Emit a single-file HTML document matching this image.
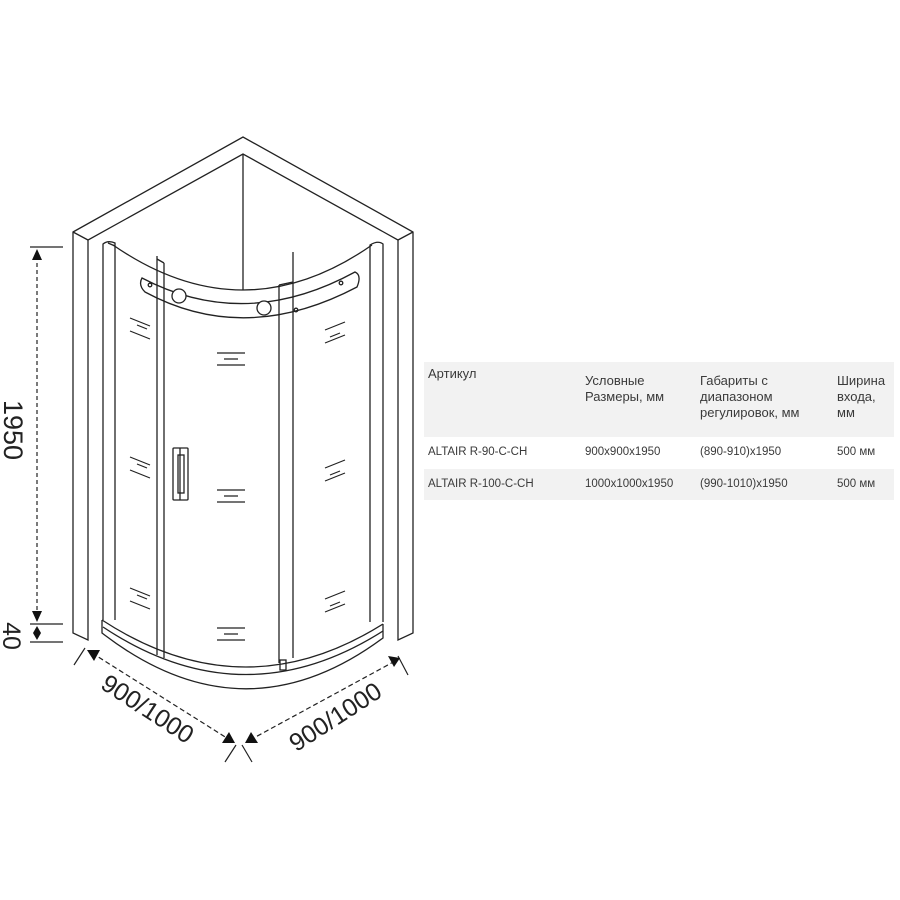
<!DOCTYPE html>
<html><head><meta charset="utf-8"><style>
body{margin:0;background:#fff;width:900px;height:900px;overflow:hidden;font-family:"Liberation Sans",sans-serif}
svg{position:absolute;left:0;top:0}
.tb{position:absolute;left:424px;top:362px;width:470px;font-family:"Liberation Sans","Noto Sans CJK SC",sans-serif;font-size:13px;color:#3a3a3a}
.r{position:relative;background:#f2f2f2}
.r.w{background:#fff}
.c{position:absolute}
</style></head><body>
<svg width="900" height="900" viewBox="0 0 900 900" fill="none" stroke="#222" stroke-width="1.3">
<path d="M73 232 L243 137 L413 232 L413 633 L398 640 L398 240 L243 154 L88 240 L88 640 L73 633 Z"/>
<line x1="243" y1="154" x2="243" y2="290"/>
<line x1="88" y1="240" x2="73" y2="232"/>
<line x1="398" y1="240" x2="413" y2="232"/>
<path d="M103 620 L103 244 Q108 240 115 243 L115 620"/>
<path d="M383 622 L383 244 Q378 240 370 245 L370 622"/>
<line x1="108" y1="243" x2="115" y2="246"/>
<path d="M113 245 Q243 335 372 245"/>
<path d="M157 259 L157 655 M164 263 L164 658 M157 259 L164 263"/>
<path d="M279 285 L279 663 M293 282 L293 658 M279 285 L293 282"/>
<line x1="293" y1="282" x2="293" y2="252"/>
<line x1="157" y1="259" x2="157" y2="256"/>
<path d="M142 278 Q245 332 355 272 Q362 275 357 287 Q245 346 145 292 Q138 285 142 278 Z"/>
<circle cx="150" cy="285" r="1.8"/><circle cx="341" cy="283" r="1.8"/><circle cx="296" cy="310" r="1.8"/>
<circle cx="179" cy="296" r="7" fill="#fff"/>
<circle cx="264" cy="308" r="7" fill="#fff"/>
<rect x="173" y="448" width="15" height="52" rx="1"/>
<rect x="178" y="455" width="6" height="38"/>
<line x1="180" y1="448" x2="180" y2="500"/>
<g stroke-width="1.2">
<path d="M130 318 L150 326 M137 325 L147 329 M130 331 L150 339"/>
<path d="M130 457 L150 465 M137 464 L147 468 M130 470 L150 478"/>
<path d="M130 588 L150 596 M137 595 L147 599 M130 601 L150 609"/>
<path d="M325 330 L345 322 M330 337 L340 333 M325 343 L345 335"/>
<path d="M325 468 L345 460 M330 475 L340 471 M325 481 L345 473"/>
<path d="M325 599 L345 591 M330 606 L340 602 M325 612 L345 604"/>
<path d="M217 353 L245 353 M224 359 L238 359 M217 365 L245 365"/>
<path d="M217 490 L245 490 M224 496 L238 496 M217 502 L245 502"/>
<path d="M217 628 L245 628 M224 634 L238 634 M217 640 L245 640"/>
</g>
<path d="M102 620 L102 633 Q243 742 383 638 L383 624"/>
<path d="M102 620 Q243 712 383 624"/>
<path d="M103 627 Q243 720 383 631"/>
<rect x="280" y="660" width="6" height="10"/>
<g stroke-width="1.2">
<line x1="30" y1="247" x2="63" y2="247"/>
<line x1="30" y1="624" x2="63" y2="624"/>
<line x1="30" y1="642" x2="63" y2="642"/>
<line x1="37" y1="256" x2="37" y2="615" stroke-dasharray="4 3"/>
<line x1="37" y1="630" x2="37" y2="636"/>
<path d="M92 653 L230 740" stroke-dasharray="5 3"/>
<path d="M250 740 L397 660" stroke-dasharray="5 3"/>
<path d="M74 665 L85 648 M225 762 L236 745 M252 762 L242 745 M408 675 L398 656"/>
</g>
<g fill="#111" stroke="none">
<path d="M37 249 L32 260 L42 260 Z"/><path d="M37 622 L32 611 L42 611 Z"/>
<path d="M37 626 L33 633 L41 633 Z"/><path d="M37 640 L33 633 L41 633 Z"/>
<path d="M87 650 L100 650 L94 661 Z"/>
<path d="M235 743 L222 743 L229 732 Z"/>
<path d="M245 743 L258 743 L251 732 Z"/>
<path d="M400 658 L388 656 L394 667 Z"/>
</g>
<g fill="#222" stroke="none" font-family="Liberation Sans, sans-serif" font-size="25">
<text transform="translate(4,430) rotate(90)" text-anchor="middle" font-size="27">1950</text>
<text transform="translate(3,636) rotate(90)" text-anchor="middle">40</text>
<text transform="translate(143,716) rotate(33)" text-anchor="middle">900/1000</text>
<text transform="translate(340,724) rotate(-33)" text-anchor="middle">900/1000</text>
</g>
</svg>
<div class="tb">
<div class="r" style="height:75px"><span class="c" style="left:4px;top:4px">Артикул</span><span class="c" style="left:161px;top:11px;line-height:16px">Условные<br>Размеры, мм</span><span class="c" style="left:276px;top:11px;line-height:16px">Габариты с<br>диапазоном<br>регулировок, мм</span><span class="c" style="left:413px;top:11px;line-height:16px">Ширина<br>входа,<br>мм</span></div>
<div class="r w" style="height:32px;font-size:11.5px"><span class="c" style="left:4px;top:9px">ALTAIR R-90-C-CH</span><span class="c" style="left:161px;top:9px">900x900x1950</span><span class="c" style="left:276px;top:9px">(890-910)x1950</span><span class="c" style="left:413px;top:9px">500 мм</span></div>
<div class="r" style="height:31px;font-size:11.5px"><span class="c" style="left:4px;top:9px">ALTAIR R-100-C-CH</span><span class="c" style="left:161px;top:9px">1000x1000x1950</span><span class="c" style="left:276px;top:9px">(990-1010)x1950</span><span class="c" style="left:413px;top:9px">500 мм</span></div>
</div>
</body></html>
